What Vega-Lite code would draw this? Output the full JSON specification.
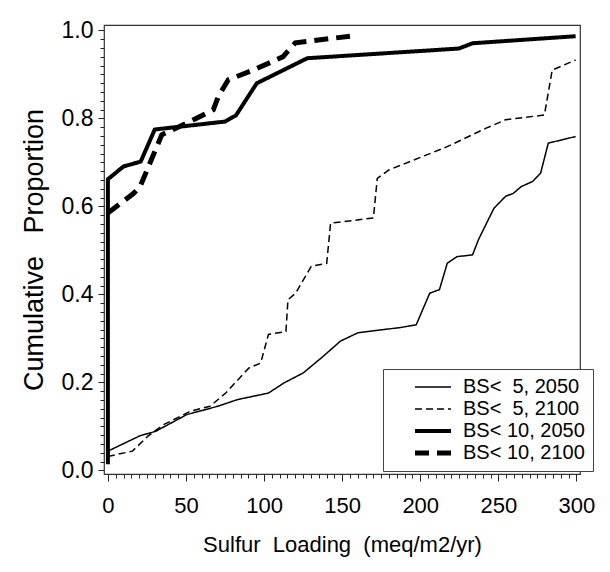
{
  "$schema": "https://vega.github.io/schema/vega-lite/v6.json",
  "width": 476,
  "height": 449,
  "autosize": "none",
  "padding": {"left": 104, "top": 25, "right": 30, "bottom": 98},
  "background": "white",
  "config": {
    "view": {"stroke": "#333333", "strokeWidth": 1.2},
    "font": "Liberation Sans"
  },
  "data": {
    "values": [
      {"series": "BS<\u00a0\u00a05,\u00a02050", "step": 1, "load": 0, "prop": 0.044},
      {"series": "BS<\u00a0\u00a05,\u00a02050", "step": 2, "load": 20.6, "prop": 0.079},
      {"series": "BS<\u00a0\u00a05,\u00a02050", "step": 3, "load": 30.6, "prop": 0.089},
      {"series": "BS<\u00a0\u00a05,\u00a02050", "step": 4, "load": 50.5, "prop": 0.127},
      {"series": "BS<\u00a0\u00a05,\u00a02050", "step": 5, "load": 70.4, "prop": 0.146},
      {"series": "BS<\u00a0\u00a05,\u00a02050", "step": 6, "load": 82.9, "prop": 0.161},
      {"series": "BS<\u00a0\u00a05,\u00a02050", "step": 7, "load": 102.8, "prop": 0.176},
      {"series": "BS<\u00a0\u00a05,\u00a02050", "step": 8, "load": 112.8, "prop": 0.199},
      {"series": "BS<\u00a0\u00a05,\u00a02050", "step": 9, "load": 125.2, "prop": 0.222},
      {"series": "BS<\u00a0\u00a05,\u00a02050", "step": 10, "load": 137.7, "prop": 0.259},
      {"series": "BS<\u00a0\u00a05,\u00a02050", "step": 11, "load": 148.9, "prop": 0.294},
      {"series": "BS<\u00a0\u00a05,\u00a02050", "step": 12, "load": 160.1, "prop": 0.313},
      {"series": "BS<\u00a0\u00a05,\u00a02050", "step": 13, "load": 187.4, "prop": 0.325},
      {"series": "BS<\u00a0\u00a05,\u00a02050", "step": 14, "load": 197.4, "prop": 0.331},
      {"series": "BS<\u00a0\u00a05,\u00a02050", "step": 15, "load": 206.1, "prop": 0.403},
      {"series": "BS<\u00a0\u00a05,\u00a02050", "step": 16, "load": 212.3, "prop": 0.411},
      {"series": "BS<\u00a0\u00a05,\u00a02050", "step": 17, "load": 217.3, "prop": 0.471},
      {"series": "BS<\u00a0\u00a05,\u00a02050", "step": 18, "load": 223.5, "prop": 0.486},
      {"series": "BS<\u00a0\u00a05,\u00a02050", "step": 19, "load": 233.5, "prop": 0.49},
      {"series": "BS<\u00a0\u00a05,\u00a02050", "step": 20, "load": 237.2, "prop": 0.524},
      {"series": "BS<\u00a0\u00a05,\u00a02050", "step": 21, "load": 247.2, "prop": 0.596},
      {"series": "BS<\u00a0\u00a05,\u00a02050", "step": 22, "load": 254.6, "prop": 0.623},
      {"series": "BS<\u00a0\u00a05,\u00a02050", "step": 23, "load": 259.6, "prop": 0.63},
      {"series": "BS<\u00a0\u00a05,\u00a02050", "step": 24, "load": 264.6, "prop": 0.645},
      {"series": "BS<\u00a0\u00a05,\u00a02050", "step": 25, "load": 272, "prop": 0.657},
      {"series": "BS<\u00a0\u00a05,\u00a02050", "step": 26, "load": 277.1, "prop": 0.676},
      {"series": "BS<\u00a0\u00a05,\u00a02050", "step": 27, "load": 282, "prop": 0.744},
      {"series": "BS<\u00a0\u00a05,\u00a02050", "step": 28, "load": 299.5, "prop": 0.759},

      {"series": "BS<\u00a0\u00a05,\u00a02100", "step": 1, "load": 0, "prop": 0.032},
      {"series": "BS<\u00a0\u00a05,\u00a02100", "step": 2, "load": 15.7, "prop": 0.044},
      {"series": "BS<\u00a0\u00a05,\u00a02100", "step": 3, "load": 25.6, "prop": 0.078},
      {"series": "BS<\u00a0\u00a05,\u00a02100", "step": 4, "load": 35.6, "prop": 0.104},
      {"series": "BS<\u00a0\u00a05,\u00a02100", "step": 5, "load": 53, "prop": 0.135},
      {"series": "BS<\u00a0\u00a05,\u00a02100", "step": 6, "load": 65.4, "prop": 0.146},
      {"series": "BS<\u00a0\u00a05,\u00a02100", "step": 7, "load": 75.4, "prop": 0.176},
      {"series": "BS<\u00a0\u00a05,\u00a02100", "step": 8, "load": 90.3, "prop": 0.233},
      {"series": "BS<\u00a0\u00a05,\u00a02100", "step": 9, "load": 97.8, "prop": 0.244},
      {"series": "BS<\u00a0\u00a05,\u00a02100", "step": 10, "load": 102.8, "prop": 0.309},
      {"series": "BS<\u00a0\u00a05,\u00a02100", "step": 11, "load": 114, "prop": 0.316},
      {"series": "BS<\u00a0\u00a05,\u00a02100", "step": 12, "load": 115.3, "prop": 0.388},
      {"series": "BS<\u00a0\u00a05,\u00a02100", "step": 13, "load": 120.2, "prop": 0.403},
      {"series": "BS<\u00a0\u00a05,\u00a02100", "step": 14, "load": 130.2, "prop": 0.464},
      {"series": "BS<\u00a0\u00a05,\u00a02100", "step": 15, "load": 140.1, "prop": 0.471},
      {"series": "BS<\u00a0\u00a05,\u00a02100", "step": 16, "load": 142.6, "prop": 0.562},
      {"series": "BS<\u00a0\u00a05,\u00a02100", "step": 17, "load": 170, "prop": 0.574},
      {"series": "BS<\u00a0\u00a05,\u00a02100", "step": 18, "load": 172.5, "prop": 0.664},
      {"series": "BS<\u00a0\u00a05,\u00a02100", "step": 19, "load": 179.9, "prop": 0.683},
      {"series": "BS<\u00a0\u00a05,\u00a02100", "step": 20, "load": 217.3, "prop": 0.736},
      {"series": "BS<\u00a0\u00a05,\u00a02100", "step": 21, "load": 242.2, "prop": 0.778},
      {"series": "BS<\u00a0\u00a05,\u00a02100", "step": 22, "load": 254.6, "prop": 0.797},
      {"series": "BS<\u00a0\u00a05,\u00a02100", "step": 23, "load": 279.5, "prop": 0.808},
      {"series": "BS<\u00a0\u00a05,\u00a02100", "step": 24, "load": 284.5, "prop": 0.91},
      {"series": "BS<\u00a0\u00a05,\u00a02100", "step": 25, "load": 299.5, "prop": 0.933},

      {"series": "BS<\u00a010,\u00a02050", "step": 1, "load": 0, "prop": 0.014},
      {"series": "BS<\u00a010,\u00a02050", "step": 2, "load": 0, "prop": 0.662},
      {"series": "BS<\u00a010,\u00a02050", "step": 3, "load": 10, "prop": 0.691},
      {"series": "BS<\u00a010,\u00a02050", "step": 4, "load": 21, "prop": 0.702},
      {"series": "BS<\u00a010,\u00a02050", "step": 5, "load": 30, "prop": 0.775},
      {"series": "BS<\u00a010,\u00a02050", "step": 6, "load": 35, "prop": 0.777},
      {"series": "BS<\u00a010,\u00a02050", "step": 7, "load": 75, "prop": 0.793},
      {"series": "BS<\u00a010,\u00a02050", "step": 8, "load": 82, "prop": 0.807},
      {"series": "BS<\u00a010,\u00a02050", "step": 9, "load": 95.3, "prop": 0.88},
      {"series": "BS<\u00a010,\u00a02050", "step": 10, "load": 127.7, "prop": 0.937},
      {"series": "BS<\u00a010,\u00a02050", "step": 11, "load": 224.7, "prop": 0.959},
      {"series": "BS<\u00a010,\u00a02050", "step": 12, "load": 233.5, "prop": 0.971},
      {"series": "BS<\u00a010,\u00a02050", "step": 13, "load": 299.5, "prop": 0.987},

      {"series": "BS<\u00a010,\u00a02100", "step": 2, "load": 0, "prop": 0.585},
      {"series": "BS<\u00a010,\u00a02100", "step": 3, "load": 16.5, "prop": 0.63},
      {"series": "BS<\u00a010,\u00a02100", "step": 4, "load": 20.6, "prop": 0.645},
      {"series": "BS<\u00a010,\u00a02100", "step": 5, "load": 34.5, "prop": 0.763},
      {"series": "BS<\u00a010,\u00a02100", "step": 6, "load": 52.6, "prop": 0.793},
      {"series": "BS<\u00a010,\u00a02100", "step": 7, "load": 67.5, "prop": 0.82},
      {"series": "BS<\u00a010,\u00a02100", "step": 8, "load": 70.7, "prop": 0.85},
      {"series": "BS<\u00a010,\u00a02100", "step": 9, "load": 77.1, "prop": 0.888},
      {"series": "BS<\u00a010,\u00a02100", "step": 10, "load": 93, "prop": 0.91},
      {"series": "BS<\u00a010,\u00a02100", "step": 11, "load": 112, "prop": 0.94},
      {"series": "BS<\u00a010,\u00a02100", "step": 12, "load": 120, "prop": 0.972},
      {"series": "BS<\u00a010,\u00a02100", "step": 13, "load": 155, "prop": 0.987}
    ]
  },
  "mark": {"type": "line", "color": "black", "strokeCap": "butt"},
  "encoding": {
    "x": {
      "field": "load",
      "type": "quantitative",
      "scale": {"domain": [-2.5, 302.3], "nice": false, "zero": false},
      "axis": {
        "title": "Sulfur\u00a0\u00a0Loading\u00a0\u00a0(meq/m2/yr)",
        "titleFont": "Liberation Sans",
        "titleFontSize": 22,
        "titleFontWeight": "normal",
        "titleColor": "black",
        "titlePadding": 18,
        "values": [0,5,10,15,20,25,30,35,40,45,50,55,60,65,70,75,80,85,90,95,100,105,110,115,120,125,130,135,140,145,150,155,160,165,170,175,180,185,190,195,200,205,210,215,220,225,230,235,240,245,250,255,260,265,270,275,280,285,290,295,300],
        "labelExpr": "datum.value % 50 === 0 ? format(datum.value, 'd') : ''",
        "labelFont": "Liberation Sans",
        "labelFontSize": 22,
        "labelColor": "black",
        "labelPadding": 14,
        "labelFlush": false,
        "labelOverlap": false,
        "labelBound": false,
        "domain": false,
        "grid": false,
        "tickColor": "#222222",
        "tickSize": {"condition": {"test": "datum.value % 50 === 0", "value": 7}, "value": 4},
        "tickWidth": 1
      }
    },
    "y": {
      "field": "prop",
      "type": "quantitative",
      "scale": {"domain": [-0.008, 1.0125], "nice": false, "zero": false},
      "axis": {
        "title": "Cumulative\u00a0\u00a0\u00a0Proportion",
        "titleFont": "Liberation Sans",
        "titleFontSize": 27,
        "titleFontWeight": "normal",
        "titleColor": "black",
        "titlePadding": 13,
        "values": [0,0.02,0.04,0.06,0.08,0.1,0.12,0.14,0.16,0.18,0.2,0.22,0.24,0.26,0.28,0.3,0.32,0.34,0.36,0.38,0.4,0.42,0.44,0.46,0.48,0.5,0.52,0.54,0.56,0.58,0.6,0.62,0.64,0.66,0.68,0.7,0.72,0.74,0.76,0.78,0.8,0.82,0.84,0.86,0.88,0.9,0.92,0.94,0.96,0.98,1],
        "labelExpr": "abs(datum.value * 5 - round(datum.value * 5)) < 0.000001 ? format(datum.value, '.1f') : ''",
        "labelFont": "Liberation Sans",
        "labelFontSize": 23,
        "labelColor": "black",
        "labelPadding": 5,
        "labelFlush": false,
        "labelOverlap": false,
        "labelBound": false,
        "domain": false,
        "grid": false,
        "tickColor": "#222222",
        "tickSize": {"condition": {"test": "abs(datum.value * 5 - round(datum.value * 5)) < 0.000001", "value": 6}, "value": 4},
        "tickWidth": 1
      }
    },
    "detail": {"field": "series", "type": "nominal"},
    "order": {"field": "step", "type": "quantitative"},
    "strokeDash": {
      "field": "series",
      "type": "nominal",
      "scale": {
        "domain": ["BS<\u00a0\u00a05,\u00a02050", "BS<\u00a0\u00a05,\u00a02100", "BS<\u00a010,\u00a02050", "BS<\u00a010,\u00a02100"],
        "range": [[1, 0], [7, 4], [1, 0], [14, 8]]
      },
      "legend": {
        "title": null,
        "orient": "none",
        "legendX": 279,
        "legendY": 344,
        "padding": 8,
        "strokeColor": "#444444",
        "fillColor": "white",
        "symbolType": "M-3.6,0H3.6",
        "symbolSize": 100,
        "symbolOffset": 32,
        "symbolStrokeColor": "black",
        "symbolFillColor": "transparent",
        "labelOffset": 20,
        "labelFont": "Liberation Sans",
        "labelFontSize": 20,
        "labelColor": "black",
        "rowPadding": 2
      }
    },
    "strokeWidth": {
      "field": "series",
      "type": "nominal",
      "scale": {
        "type": "ordinal",
        "domain": ["BS<\u00a0\u00a05,\u00a02050", "BS<\u00a0\u00a05,\u00a02100", "BS<\u00a010,\u00a02050", "BS<\u00a010,\u00a02100"],
        "range": [1.5, 1.5, 4, 5]
      },
      "legend": {
        "title": null,
        "orient": "none",
        "legendX": 279,
        "legendY": 344,
        "padding": 8,
        "strokeColor": "#444444",
        "fillColor": "white",
        "symbolType": "M-3.6,0H3.6",
        "symbolSize": 100,
        "symbolOffset": 32,
        "symbolStrokeColor": "black",
        "symbolFillColor": "transparent",
        "labelOffset": 20,
        "labelFont": "Liberation Sans",
        "labelFontSize": 20,
        "labelColor": "black",
        "rowPadding": 2
      }
    }
  }
}
